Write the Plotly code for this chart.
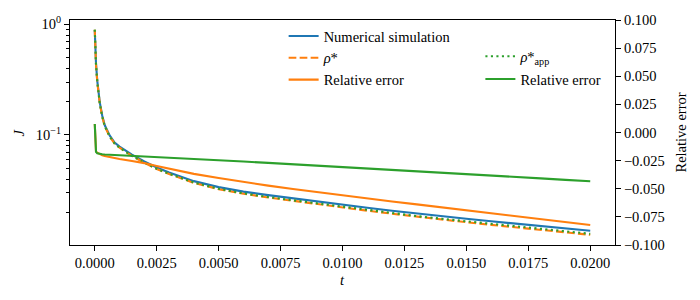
import plotly.graph_objects as go

# time grid (s)
t = [0, 0.00002, 0.00005, 0.0001, 0.0002, 0.0003, 0.0004, 0.0006, 0.0008, 0.001,
     0.0015, 0.002, 0.0025, 0.003, 0.004, 0.005, 0.006, 0.007, 0.008, 0.009, 0.010,
     0.011, 0.012, 0.013, 0.014, 0.015, 0.016, 0.017, 0.018, 0.019, 0.020]

# numerical simulation J
J_sim = [0.888, 0.62, 0.44, 0.31, 0.198, 0.150, 0.123, 0.099, 0.0855, 0.0785,
         0.0664, 0.0577, 0.0508, 0.0459, 0.0383, 0.0338, 0.0308, 0.0286, 0.0267, 0.0249, 0.0234,
         0.0220, 0.0207, 0.0195, 0.01846, 0.0175, 0.0166, 0.01577, 0.01503, 0.01432, 0.01365]

# rho*
rho_star = [0.894, 0.614, 0.433, 0.3046, 0.1943, 0.1471, 0.1205, 0.0969, 0.0836, 0.0767,
            0.0647, 0.0561, 0.0493, 0.0444, 0.0369, 0.0324, 0.02944, 0.02725, 0.02536, 0.02358, 0.02209,
            0.02071, 0.01943, 0.01825, 0.01723, 0.01629, 0.01541, 0.0146, 0.01387, 0.01318, 0.01253]

# rho*_app
rho_app = [0.895, 0.6145, 0.4327, 0.3045, 0.1943, 0.1471, 0.1206, 0.0970, 0.0837, 0.0768,
           0.0649, 0.0563, 0.0495, 0.0447, 0.0372, 0.0327, 0.0297, 0.0275, 0.0257, 0.0239, 0.0224,
           0.0210, 0.0197, 0.0185, 0.0175, 0.0166, 0.0157, 0.0149, 0.0141, 0.0135, 0.0128]

# relative errors (right axis)
err_star = [0.0076, -0.011, -0.0168, -0.0180, -0.0195, -0.0203, -0.0208, -0.0218, -0.0227, -0.0236,
            -0.0254, -0.0272, -0.0297, -0.0322, -0.0368, -0.0405, -0.0440, -0.0472, -0.0502, -0.0531, -0.0560,
            -0.0587, -0.0613, -0.0639, -0.0665, -0.0691, -0.0717, -0.0744, -0.0770, -0.0796, -0.0822]

err_app = [0.0076, -0.008, -0.0172, -0.0185, -0.0192, -0.0194, -0.0196, -0.0198, -0.0200, -0.0202,
           -0.0208, -0.0214, -0.0219, -0.0225, -0.0235, -0.0246, -0.0258, -0.0270, -0.0282, -0.0295, -0.0307,
           -0.0320, -0.0332, -0.0345, -0.0358, -0.0370, -0.0383, -0.0395, -0.0408, -0.0421, -0.0434]

x_ticks = [0, 0.0025, 0.005, 0.0075, 0.01, 0.0125, 0.015, 0.0175, 0.02]
y2_ticks = [-0.1, -0.075, -0.05, -0.025, 0.0, 0.025, 0.05, 0.075, 0.1]
y_major = [0.1, 1]
y_major_text = ["10<sup>−1</sup>", "10<sup>0</sup>"]
y_minor = [0.02, 0.03, 0.04, 0.05, 0.06, 0.07, 0.08, 0.09, 0.2, 0.3, 0.4, 0.5, 0.6, 0.7, 0.8, 0.9]

BLUE, ORANGE, GREEN = "#1f77b4", "#ff7f0e", "#2ca02c"
FONT = "Liberation Serif, Times New Roman, serif"
FS = 14.5
LW = 2.1

fig = go.Figure()
fig.add_trace(go.Scatter(x=t, y=J_sim, mode="lines", name="Numerical simulation",
                         line=dict(color=BLUE, width=LW), legend="legend"))
fig.add_trace(go.Scatter(x=t, y=rho_star, mode="lines", name="<i>ρ</i>*",
                         line=dict(color=ORANGE, width=LW, dash="7.7px,3.3px"), legend="legend"))
fig.add_trace(go.Scatter(x=t, y=rho_app, mode="lines", name="<i>ρ</i>*<sub>app</sub>",
                         line=dict(color=GREEN, width=LW, dash="2.1px,3.4px"),
                         legend="legend2", legendgroup="app"))
fig.add_trace(go.Scatter(x=t, y=err_star, mode="lines", name="Relative error", yaxis="y2",
                         line=dict(color=ORANGE, width=LW), legend="legend"))
fig.add_trace(go.Scatter(x=t, y=err_app, mode="lines", name="Relative error", yaxis="y2",
                         line=dict(color=GREEN, width=LW), legend="legend2", legendgroup="apperr"))

axis_common = dict(showline=True, linecolor="black", linewidth=1.1, ticks="outside",
                   ticklen=5, tickwidth=1.1, tickcolor="black", showgrid=False, zeroline=False,
                   automargin=False,
                   tickfont=dict(family=FONT, size=FS, color="black"))

# page body has an 8px offset, so the figure is 8px smaller and margins shifted
fig.update_layout(
    width=692, height=292,
    margin=dict(l=62, r=85, t=12, b=55),
    paper_bgcolor="white", plot_bgcolor="white",
    font=dict(family=FONT, size=FS, color="black"),
    xaxis=dict(range=[-0.001, 0.021], tickvals=x_ticks, tickformat=".4f", mirror=True,
               **axis_common),
    yaxis=dict(type="log", range=[-1.994, 0.039], tickvals=y_major, ticktext=y_major_text,
               minor=dict(tickvals=y_minor, ticks="outside", ticklen=3, tickwidth=0.8, tickcolor="black"),
               **axis_common),
    yaxis2=dict(overlaying="y", side="right", range=[-0.1, 0.1], tickvals=y2_ticks,
                tickformat=".3f", **axis_common),
    legend=dict(x=0.392, y=1.0, xanchor="left", yanchor="top", bgcolor="rgba(0,0,0,0)",
                font=dict(family=FONT, size=FS), tracegroupgap=0, itemwidth=30),
    legend2=dict(x=0.753, y=0.91, xanchor="left", yanchor="top", bgcolor="rgba(0,0,0,0)",
                 font=dict(family=FONT, size=FS), tracegroupgap=1, itemwidth=30),
    showlegend=True,
    annotations=[
        dict(text="<i>t</i>", xref="paper", yref="paper", x=0.5, y=-0.1556,
             xanchor="center", yanchor="middle", showarrow=False,
             font=dict(family=FONT, size=FS, color="black")),
        dict(text="<i>J</i>", xref="paper", yref="paper", x=-0.0936, y=0.5,
             xanchor="center", yanchor="middle", textangle=-90, showarrow=False,
             font=dict(family=FONT, size=FS, color="black")),
        dict(text="Relative error", xref="paper", yref="paper", x=1.1193, y=0.5,
             xanchor="center", yanchor="middle", textangle=-90, showarrow=False,
             font=dict(family=FONT, size=FS, color="black")),
    ],
)

fig.write_html("out.html")
